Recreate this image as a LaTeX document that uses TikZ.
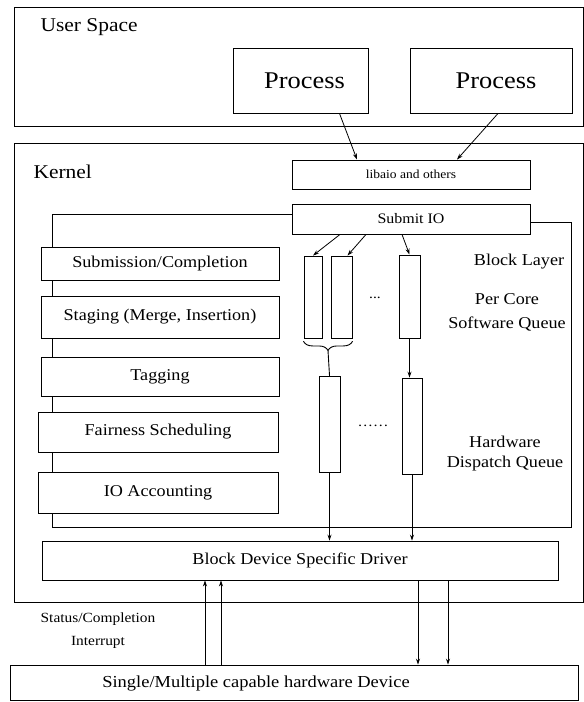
\documentclass[tikz,border=0pt]{standalone}
\usepackage{fontspec}
\setmainfont[FakeStretch=1.1]{Liberation Serif}
\usetikzlibrary{arrows.meta,decorations.pathreplacing}

\tikzset{
  box/.style={draw, fill=white, inner sep=0pt, line width=0.9pt},
  queue/.style={box, minimum width=19pt},
  stage/.style={box, font=\fontsize{16.5}{19}\selectfont, minimum width=238pt},
  tag/.style={font=\fontsize{16.5}{20}\selectfont, align=center},
  arr/.style={-{Stealth[length=6pt,width=4pt]}, line width=0.8pt}
}

\begin{document}
\begin{tikzpicture}[x=1pt, y=-1pt, line cap=round]
  \useasboundingbox (0,0) rectangle (584,702);
  % ---------- user space ----------
  \node[box, minimum width=569pt, minimum height=119pt] (userspace) at (298.5,66.5) {};
  \node[anchor=base west, font=\fontsize{19.5}{22}\selectfont] (usertitle) at (37,31) {User Space};
  \node[box, minimum width=135pt, minimum height=65pt, font=\fontsize{24}{27}\selectfont] (proc1) at (300.5,80.5) {\hspace{8pt}Process};
  \node[box, minimum width=162pt, minimum height=65pt, font=\fontsize{24}{27}\selectfont] (proc2) at (491,80.5) {\hspace{10pt}Process};
  % ---------- kernel ----------
  \node[box, minimum width=569pt, minimum height=459pt] (kernel) at (298.5,372.5) {};
  \node[anchor=base west, font=\fontsize{19.5}{22}\selectfont] (kerneltitle) at (30,178) {Kernel};
  \node[box, minimum width=238pt, minimum height=29pt, font=\fontsize{12.3}{14}\selectfont] (libaio) at (411,174.5) {libaio and others};
  \draw[arr] ([xshift=39pt]proc1.south) -- ([xshift=-54pt]libaio.north);
  \draw[arr] ([xshift=7pt]proc2.south) -- ([xshift=46pt]libaio.north);
  % ---------- block layer ----------
  \node[box, minimum width=238pt, minimum height=30pt, font=\fontsize{14.5}{16}\selectfont] (submit) at (411,219) {Submit IO};
  \draw[line width=0.9pt] ([yshift=5pt]submit.west) -| (52,527) -| (571,222) -- ([yshift=-3pt]submit.east);
  \node[stage, minimum height=33pt] (subcomp) at (160,263.5) {Submission/Completion};
  \node[stage, minimum height=42pt] (staging) at (160,317) {Staging (Merge, Insertion)};
  \node[stage, minimum height=39pt] (tagging) at (160,376.5) {Tagging};
  \node[stage, minimum height=40pt, minimum width=240pt] (fairness) at (158,432) {Fairness Scheduling};
  \node[stage, minimum height=41pt, minimum width=240pt] (ioacct) at (158,492.5) {IO Accounting};
  \node[tag] (blocklayer) at (519,262) {Block Layer};
  \node[tag] (swlabel) at (507,312) {Per Core\\[4pt]Software Queue};
  \node[tag] (hwlabel) at (505,454) {Hardware\\Dispatch Queue};
  % ---------- software queues ----------
  \node[queue, minimum width=18pt, minimum height=82pt] (sq1) at (313,297) {};
  \node[queue, minimum width=21pt, minimum height=82pt] (sq2) at (341.5,297) {};
  \node[queue, minimum width=21pt, minimum height=83pt] (sq3) at (409.5,296.5) {};
  \node[font=\fontsize{14}{16}\selectfont] (swdots) at (375,298) {...};
  \draw[arr] ([xshift=-71pt]submit.south) -- (sq1.north);
  \draw[arr] ([xshift=-45pt]submit.south) -- ([xshift=6pt]sq2.north);
  \draw[arr] ([xshift=-9pt]submit.south) -- (sq3.north);
  \draw[line width=0.9pt, decorate, decoration={brace, mirror, amplitude=9pt}]
    ([yshift=-3pt]sq1.south west) -- coordinate[yshift=-9pt] (bracetip) ([yshift=-3pt]sq2.south east);
  % ---------- hardware queues ----------
  \node[queue, minimum width=21pt, minimum height=96pt] (hq1) at (329.5,424) {};
  \node[queue, minimum width=20pt, minimum height=96pt] (hq2) at (412,426) {};
  \node[font=\fontsize{14}{16}\selectfont] (hwdots) at (373,426) {\dots\dots};
  \draw[line width=0.9pt] (bracetip) -- (hq1.north);
  \draw[arr] (sq3.south) -- (sq3.south |- hq2.north);
  % ---------- driver and device ----------
  \node[box, minimum width=516pt, minimum height=39pt, font=\fontsize{16.5}{19}\selectfont] (driver) at (300,560.5) {Block Device Specific Driver};
  \draw[arr] (hq1.south) -- (hq1.south |- driver.north);
  \draw[arr] (hq2.south) -- (hq2.south |- driver.north);
  \node[box, minimum width=568pt, minimum height=35pt] (device) at (294,682.5) {};
  \node[font=\fontsize{16.8}{19}\selectfont] (devicetext) at (256,683) {Single/Multiple capable hardware Device};
  \foreach \x in {205,221}
    {\draw[arr] (device.north -| \x,0) -- (driver.south -| \x,0);}
  \foreach \x in {418,448}
    {\draw[arr] (driver.south -| \x,0) -- (device.north -| \x,0);}
  \node[font=\fontsize{14}{23}\selectfont, align=center] (irq) at (98,631) {Status/Completion\\Interrupt};
\end{tikzpicture}
\end{document}
